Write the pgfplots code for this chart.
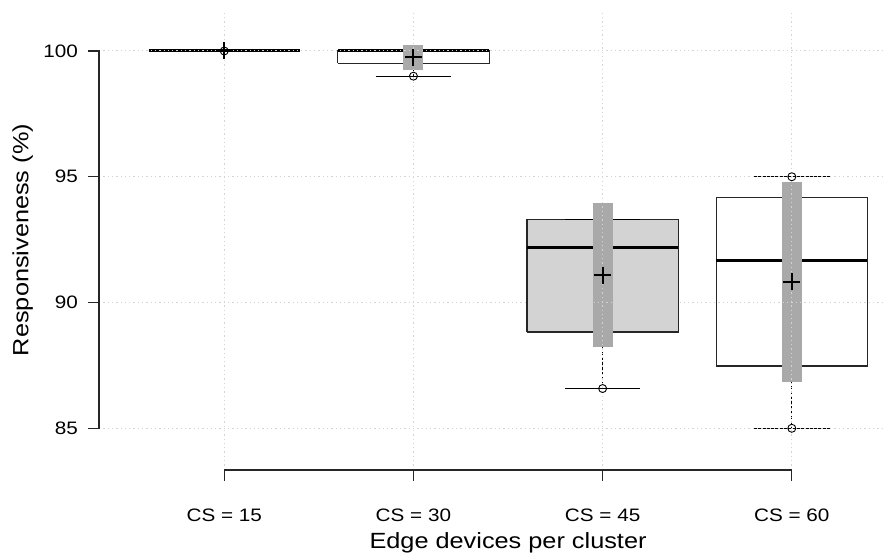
\documentclass[border=0pt]{standalone}
\usepackage{pgfplots}
\usepackage{pgfplotstable}
\pgfplotsset{compat=1.18}
\usepackage{fontspec}
\setmainfont{Liberation Sans}[FakeStretch=1.15]

\definecolor{boxfill}{HTML}{D3D3D3}
\definecolor{sdgray}{HTML}{A9A9A9}
\definecolor{gridgray}{HTML}{D3D3D3}

% mean per cluster size
\pgfplotstableread{
pos mean
1 100.00
2 99.75
3 91.09
4 90.82
}\means

\pgfplotsset{
  boxline/.style={draw=black!85, line width=1.2pt, mark=none},
  medianline/.style={draw=black, line width=3pt, mark=none},
  stem/.style={draw=black, line width=1pt, dash pattern=on 3pt off 2pt, mark=none},
  cap/.style={draw=black, line width=1.1pt, mark=none},
  sdbar/.style={draw=sdgray, line width=20pt, mark=none},
}
\tikzset{axisdeco/.style={draw=black!85, line width=1.3pt}}

\begin{document}
\begin{tikzpicture}
\begin{axis}[
  at={(99pt,86pt)}, anchor=south west,
  scale only axis, width=786pt, height=460pt,
  xmin=0.338, xmax=4.4926, ymin=83.342, ymax=101.63,
  axis line style={draw=none},
  xtick={1,2,3,4},
  xticklabels={CS = 15, CS = 30, CS = 45, CS = 60},
  ytick={85,90,95,100},
  xtick pos=left, ytick pos=left,
  tick align=outside,
  major tick length=11pt,
  major tick style={draw=black!85, line width=1.2pt},
  grid=major,
  major grid style={draw=gridgray, line width=1pt, dash pattern=on 1.3pt off 3pt},
  axis on top,
  /pgf/number format/assume math mode=true,
  xticklabel style={font=\fontsize{18}{18}\selectfont, anchor=base, inner sep=0pt, yshift=-40pt},
  yticklabel style={font=\fontsize{18}{18}\selectfont, anchor=east, inner sep=0pt, xshift=-10pt},
  xlabel={Edge devices per cluster},
  xlabel style={at={(axis description cs:0.5204,0)}, anchor=base, yshift=-78.3pt,
    font=\fontsize{22}{22}\selectfont},
  ylabel={Responsiveness (\%)},
  ylabel style={at={(axis description cs:-0.0897,0.5)}, anchor=base,
    font=\fontsize{22}{22}\selectfont},
]
% boxes: lower quartile to upper quartile
\addplot[boxline, fill=white]   coordinates {(0.6,100) (1.4,100) (1.4,100) (0.6,100) (0.6,100)};
\addplot[boxline, fill=white]   coordinates {(1.6,99.51) (2.4,99.51) (2.4,100) (1.6,100) (1.6,99.51)};
\addplot[boxline, fill=boxfill] coordinates {(2.6,88.83) (3.4,88.83) (3.4,93.31) (2.6,93.31) (2.6,88.83)};
\addplot[boxline, fill=white]   coordinates {(3.6,87.48) (4.4,87.48) (4.4,94.16) (3.6,94.16) (3.6,87.48)};

% whisker stems
\addplot[stem] coordinates {(2,99.51) (2,99.0)};
\addplot[stem] coordinates {(3,88.83) (3,86.58)};
\addplot[stem] coordinates {(4,87.48) (4,85.0)};
\addplot[stem] coordinates {(4,94.16) (4,95.0)};

% whisker caps
\addplot[cap] coordinates {(0.8,100) (1.2,100)};
\addplot[cap] coordinates {(1.8,99.0) (2.2,99.0)};
\addplot[cap] coordinates {(1.8,100) (2.2,100)};
\addplot[cap] coordinates {(2.8,86.58) (3.2,86.58)};
\addplot[cap] coordinates {(2.8,93.31) (3.2,93.31)};
\addplot[cap] coordinates {(3.8,85.0) (4.2,85.0)};
\addplot[cap] coordinates {(3.8,95.0) (4.2,95.0)};

% medians
\addplot[medianline] coordinates {(0.6,100) (1.4,100)};
\addplot[medianline] coordinates {(1.6,100) (2.4,100)};
\addplot[medianline] coordinates {(2.6,92.20) (3.4,92.20)};
\addplot[medianline] coordinates {(3.6,91.67) (4.4,91.67)};

% mean +/- one standard deviation
\addplot[sdbar] coordinates {(2,99.26) (2,100.24)};
\addplot[sdbar] coordinates {(3,88.22) (3,93.96)};
\addplot[sdbar] coordinates {(4,86.84) (4,94.80)};

% mean marker
\addplot[only marks, mark=+, mark size=8.5pt,
  mark options={draw=black, line width=2pt}]
  table[x=pos, y=mean] {\means};

% extreme observations
\addplot[only marks, mark=o, mark size=4pt, mark options={draw=black, line width=0.9pt}]
  coordinates {(1,100) (2,99.0) (3,86.58) (4,95.0) (4,85.0)};

% anchor points for the detached axes
\coordinate (x1) at (axis cs:1,83.342);
\coordinate (x2) at (axis cs:2,83.342);
\coordinate (x3) at (axis cs:3,83.342);
\coordinate (x4) at (axis cs:4,83.342);
\coordinate (y85) at (axis cs:0.338,85);
\coordinate (y90) at (axis cs:0.338,90);
\coordinate (y95) at (axis cs:0.338,95);
\coordinate (y100) at (axis cs:0.338,100);
\end{axis}
% detached axes: lines span the tick range, ticks point outwards
\draw[axisdeco] ([yshift=-11pt]x1) -- (x1) -- (x4) -- ([yshift=-11pt]x4);
\draw[axisdeco] (x2) -- ++(0,-11pt) (x3) -- ++(0,-11pt);
\draw[axisdeco] ([xshift=-11pt]y85) -- (y85) -- (y100) -- ([xshift=-11pt]y100);
\draw[axisdeco] (y90) -- ++(-11pt,0) (y95) -- ++(-11pt,0);
\pgfresetboundingbox
\useasboundingbox (0pt,0pt) rectangle (885pt,556pt);
\end{tikzpicture}
\end{document}
